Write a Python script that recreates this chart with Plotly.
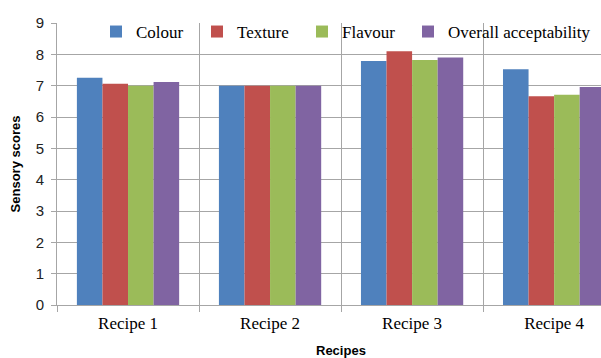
import plotly.graph_objects as go

categories = ["Recipe 1", "Recipe 2", "Recipe 3", "Recipe 4"]
colour = [7.25, 7.0, 7.79, 7.52]
texture = [7.06, 7.0, 8.1, 6.66]
flavour = [7.0, 7.0, 7.82, 6.71]
overall = [7.12, 7.0, 7.9, 6.96]

series = [
    ("Colour", colour, "#4F81BD"),
    ("Texture", texture, "#C0504D"),
    ("Flavour", flavour, "#9BBB59"),
    ("Overall acceptability", overall, "#8064A2"),
]

serif = "Liberation Serif, Times New Roman, serif"
sans = "Liberation Sans, Arial, sans-serif"

legend_names = ["legend", "legend2", "legend3", "legend4"]
legend_px = [96, 197, 302, 408]

fig = go.Figure()
for (name, vals, col), lg in zip(series, legend_names):
    fig.add_trace(go.Bar(x=categories, y=vals, name=name, marker_color=col,
                         marker_line_width=0, legend=lg, showlegend=True))

legend_layout = {}
for lg, px in zip(legend_names, legend_px):
    legend_layout[lg] = dict(orientation="h", x=(px - 57) / 544, xanchor="left",
                             y=1.032, yanchor="top",
                             font=dict(family=serif, size=17, color="black"),
                             bgcolor="rgba(0,0,0,0)", itemclick=False)

fig.update_layout(
    width=601, height=358,
    margin=dict(l=57, r=0, t=23, b=53),
    paper_bgcolor="white", plot_bgcolor="white",
    showlegend=True,
    barmode="group", bargap=0.28, bargroupgap=0,
    font=dict(family=serif, size=17, color="black"),
    xaxis=dict(range=[-0.5, 3.33], tickson="boundaries", showgrid=True,
               gridcolor="#a6a6a6", gridwidth=1, ticks="outside", ticklen=6,
               tickcolor="#a6a6a6", showline=True, linecolor="#a6a6a6",
               ticklabelstandoff=3,
               tickfont=dict(family=serif, size=17, color="black")),
    yaxis=dict(range=[0, 9], dtick=1, showgrid=True, gridcolor="#a6a6a6",
               ticks="outside", ticklen=5, tickcolor="#a6a6a6",
               showline=True, linecolor="#a6a6a6", zeroline=False,
               ticklabelstandoff=4,
               tickfont=dict(family=sans, size=15, color="#222222"),
               title=dict(text="<b>Sensory scores</b>", standoff=12,
                          font=dict(family=sans, size=13, color="black"))),
    annotations=[dict(text="<b>Recipes</b>", x=1.5, xref="x", y=-0.162, yref="paper",
                      yanchor="middle", showarrow=False,
                      font=dict(family=sans, size=13, color="black"))],
    **legend_layout,
)

fig.write_html("out.html")
